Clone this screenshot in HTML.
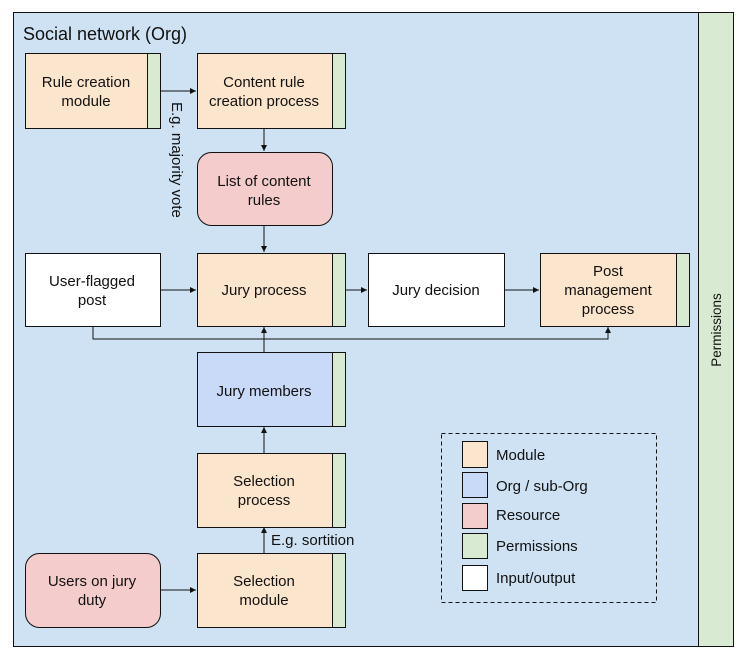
<!DOCTYPE html>
<html><head><style>html,body{margin:0;padding:0;background:#fff}svg{display:block}text{font-family:"Liberation Sans",Arial,sans-serif;font-size:15px;fill:#111}</style></head>
<body>
<svg width="742" height="658" viewBox="0 0 742 658" xmlns="http://www.w3.org/2000/svg">
<defs><marker id="a" markerWidth="8" markerHeight="8" refX="6" refY="3" orient="auto" markerUnits="userSpaceOnUse"><path d="M0,0 L6,3 L0,6 z" fill="#111"/></marker></defs>
<rect x="13.5" y="12.5" width="720" height="634" fill="#cfe2f3" stroke="#111"/>
<rect x="698.5" y="12.5" width="35" height="634" fill="#d9ead3" stroke="#111"/>
<text transform="translate(721,330) rotate(-90)" text-anchor="middle" style="font-size:13.5px">Permissions</text>
<text x="23" y="40" style="font-size:18px">Social network (Org)</text>
<g stroke="#111" fill="none">
<line x1="160" y1="91" x2="196" y2="91" marker-end="url(#a)"/>
<line x1="264" y1="128" x2="264" y2="151" marker-end="url(#a)"/>
<line x1="264" y1="225" x2="264" y2="252" marker-end="url(#a)"/>
<line x1="160" y1="290" x2="196" y2="290" marker-end="url(#a)"/>
<line x1="345" y1="290" x2="367" y2="290" marker-end="url(#a)"/>
<line x1="504" y1="290" x2="539" y2="290" marker-end="url(#a)"/>
<polyline points="93,326 93,339 608,339 608,327" marker-end="url(#a)"/>
<line x1="264" y1="352" x2="264" y2="327" marker-end="url(#a)"/>
<line x1="264" y1="453" x2="264" y2="427" marker-end="url(#a)"/>
<line x1="264" y1="553" x2="264" y2="527" marker-end="url(#a)"/>
<line x1="160" y1="590" x2="196" y2="590" marker-end="url(#a)"/>
</g>
<g stroke="#111">
<rect x="25.5" y="53.5" width="135" height="75" fill="#fce5cd"/><rect x="147.5" y="53.5" width="13" height="75" fill="#d9ead3"/>
<rect x="197.5" y="53.5" width="148" height="75" fill="#fce5cd"/><rect x="332.5" y="53.5" width="13" height="75" fill="#d9ead3"/>
<rect x="197.5" y="152.5" width="135" height="73" rx="14" fill="#f4cccc"/>
<rect x="25.5" y="253.5" width="135" height="73" fill="#fff"/>
<rect x="197.5" y="253.5" width="148" height="73" fill="#fce5cd"/><rect x="332.5" y="253.5" width="13" height="73" fill="#d9ead3"/>
<rect x="368.5" y="253.5" width="136" height="73" fill="#fff"/>
<rect x="540.5" y="253.5" width="149" height="73" fill="#fce5cd"/><rect x="676.5" y="253.5" width="13" height="73" fill="#d9ead3"/>
<rect x="197.5" y="352.5" width="148" height="74" fill="#c9daf8"/><rect x="332.5" y="352.5" width="13" height="74" fill="#d9ead3"/>
<rect x="197.5" y="453.5" width="148" height="74" fill="#fce5cd"/><rect x="332.5" y="453.5" width="13" height="74" fill="#d9ead3"/>
<rect x="25.5" y="553.5" width="135" height="74" rx="14" fill="#f4cccc"/>
<rect x="197.5" y="553.5" width="148" height="74" fill="#fce5cd"/><rect x="332.5" y="553.5" width="13" height="74" fill="#d9ead3"/>
</g>
<g text-anchor="middle">
<text x="86" y="87">Rule creation</text><text x="86" y="106">module</text>
<text x="264" y="87">Content rule</text><text x="264" y="106">creation process</text>
<text x="264" y="186">List of content</text><text x="264" y="205">rules</text>
<text x="92" y="286">User-flagged</text><text x="92" y="305">post</text>
<text x="264" y="295">Jury process</text>
<text x="436" y="295">Jury decision</text>
<text x="608" y="276">Post</text><text x="608" y="295">management</text><text x="608" y="314">process</text>
<text x="264" y="396">Jury members</text>
<text x="264" y="486">Selection</text><text x="264" y="505">process</text>
<text x="92" y="586">Users on jury</text><text x="92" y="605">duty</text>
<text x="264" y="586">Selection</text><text x="264" y="605">module</text>
</g>
<text transform="translate(172,102) rotate(90)">E.g. majority vote</text>
<text x="271" y="545">E.g. sortition</text>
<rect x="441.5" y="433.5" width="215" height="169" fill="none" stroke="#111" stroke-dasharray="4,3"/>
<g stroke="#111">
<rect x="462.5" y="441.5" width="25" height="26" fill="#fce5cd"/>
<rect x="462.5" y="472.5" width="25" height="25" fill="#c9daf8"/>
<rect x="462.5" y="503.5" width="25" height="25" fill="#f4cccc"/>
<rect x="462.5" y="533.5" width="25" height="25" fill="#d9ead3"/>
<rect x="462.5" y="565.5" width="25" height="25" fill="#fff"/>
</g>
<text x="496" y="460">Module</text>
<text x="496" y="491">Org / sub-Org</text>
<text x="496" y="520">Resource</text>
<text x="496" y="551">Permissions</text>
<text x="496" y="583">Input/output</text>
</svg>
</body></html>
